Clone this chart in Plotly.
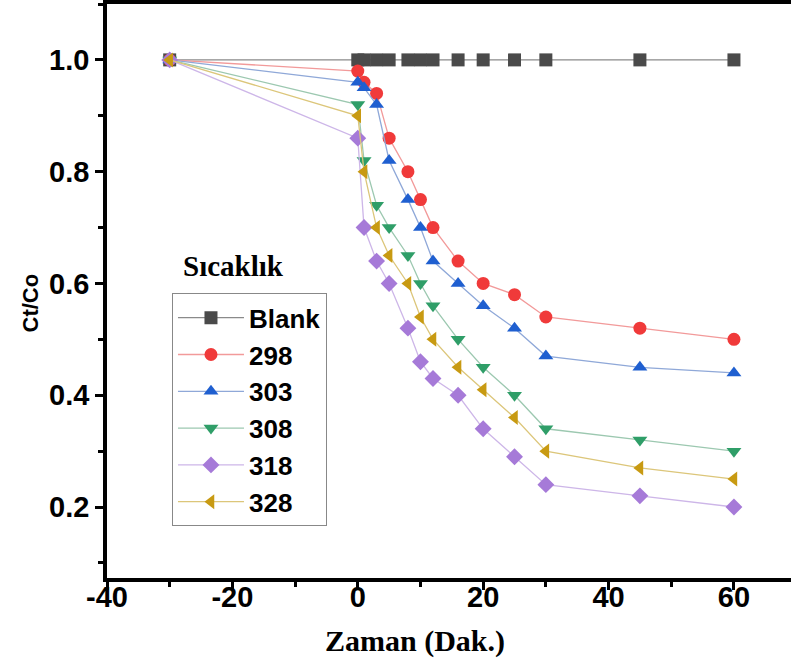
import plotly.graph_objects as go

times = [-30, 0, 1, 3, 5, 8, 10, 12, 16, 20, 25, 30, 45, 60]
series_names = ["Blank", "298", "303", "308", "318", "328"]
blank = [1.0] * 14
t298 = [1.0, 0.98, 0.96, 0.94, 0.86, 0.80, 0.75, 0.70, 0.64, 0.60, 0.58, 0.54, 0.52, 0.50]
t303 = [1.0, 0.96, 0.95, 0.92, 0.82, 0.75, 0.70, 0.64, 0.60, 0.56, 0.52, 0.47, 0.45, 0.44]
t308 = [1.0, 0.92, 0.82, 0.74, 0.70, 0.65, 0.60, 0.56, 0.50, 0.45, 0.40, 0.34, 0.32, 0.30]
t318 = [1.0, 0.86, 0.70, 0.64, 0.60, 0.52, 0.46, 0.43, 0.40, 0.34, 0.29, 0.24, 0.22, 0.20]
t328 = [1.0, 0.90, 0.80, 0.70, 0.65, 0.60, 0.54, 0.50, 0.45, 0.41, 0.36, 0.30, 0.27, 0.25]
values = [blank, t298, t303, t308, t318, t328]

x_tick_vals = [-40, -20, 0, 20, 40, 60]
x_tick_text = ["-40", "-20", "0", "20", "40", "60"]
y_tick_vals = [0.2, 0.4, 0.6, 0.8, 1.0]
y_tick_text = ["0.2", "0.4", "0.6", "0.8", "1.0"]

marker_colors = ["#4a4a4a", "#f03a3a", "#1f5fd0", "#2f9e68", "#a67ad8", "#c89a12"]
line_colors = ["#8a8a8a", "#f29a9a", "#8fa8d8", "#9cc8b0", "#cdb6e8", "#dcc67a"]
symbols = ["square", "circle", "triangle-up", "triangle-down", "diamond", "triangle-left"]

fig = go.Figure()
for i, (name, vals) in enumerate(zip(series_names, values)):
    fig.add_trace(go.Scatter(
        x=times, y=vals, name=name, mode="lines+markers",
        line=dict(color=line_colors[i], width=1.3),
        marker=dict(symbol=symbols[i], size=13, color=marker_colors[i],
                    line=dict(width=0)),
        legendgroup=name,
    ))

axis_common = dict(
    showline=True, linecolor="black", linewidth=3.5,
    ticks="outside", tickcolor="black", tickwidth=2.5, ticklen=8,
    showgrid=False, zeroline=False,
    tickfont=dict(family="Liberation Sans", size=29, color="black", weight="bold"),
)

fig.update_xaxes(
    range=[-40, 69.1], tickmode="array", tickvals=x_tick_vals, ticktext=x_tick_text,
    mirror=True, ticklabelstandoff=-18,
    minor=dict(dtick=10, tick0=0, ticks="outside", ticklen=5, tickwidth=2.5, tickcolor="black"),
    **axis_common,
)
fig.update_yaxes(
    range=[0.073, 1.1], tickmode="array", tickvals=y_tick_vals, ticktext=y_tick_text,
    minor=dict(dtick=0.1, tick0=0, ticks="outside", ticklen=5, tickwidth=2.5, tickcolor="black"),
    **axis_common,
)

fig.update_layout(
    width=791, height=665,
    margin=dict(l=107, r=0, t=4, b=87),
    plot_bgcolor="white", paper_bgcolor="white",
    showlegend=True,
    legend=dict(
        x=0.095, y=0.496, xanchor="left", yanchor="top",
        bordercolor="#888888", borderwidth=1, bgcolor="white",
        font=dict(family="Liberation Sans", size=26, color="black", weight="bold"),
        itemwidth=66, tracegroupgap=0,
    ),
    annotations=[
        dict(text="Sıcaklık", xref="paper", yref="paper", x=0.108, y=0.513,
             xanchor="left", yanchor="bottom", showarrow=False,
             font=dict(family="Liberation Serif", size=29, color="black", weight="bold")),
        dict(text="Zaman (Dak.)", xref="paper", yref="paper", x=0.45, y=-0.11,
             xanchor="center", yanchor="middle", showarrow=False,
             font=dict(family="Liberation Serif", size=30, color="black", weight="bold")),
        dict(text="Ct/Co", xref="paper", yref="paper", x=-0.1126, y=0.48,
             xanchor="center", yanchor="middle", showarrow=False, textangle=-90,
             font=dict(family="Liberation Sans", size=22, color="black", weight="bold")),
    ],
)

fig.write_html("out.html")
